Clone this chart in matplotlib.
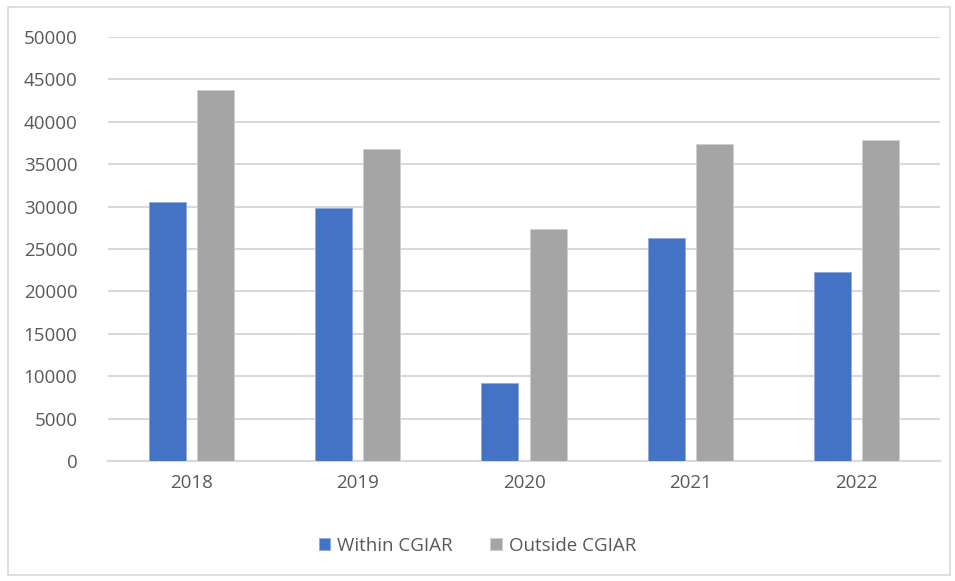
import matplotlib.pyplot as plt
import matplotlib.patches as mpatches
import numpy as np

years = ['2018', '2019', '2020', '2021', '2022']
within_cgiar = [30500, 29800, 9200, 26300, 22300]
outside_cgiar = [43800, 36850, 27300, 37400, 37900]

blue = '#4472C4'
grey = '#A5A5A5'
text_col = '#595959'

plt.rcParams['font.family'] = ['Open Sans', 'DejaVu Sans']

fig = plt.figure(figsize=(9.55, 5.81), dpi=100)
ax = fig.add_axes([108 / 955, 120 / 581, 832 / 955, 424 / 581])

x = np.arange(len(years))
w = 0.222
gap = 0.068
ax.bar(x - (w + gap) / 2, within_cgiar, w, color=blue, edgecolor='#8fa9dc', linewidth=0.6, label='Within CGIAR', zorder=3)
ax.bar(x + (w + gap) / 2, outside_cgiar, w, color=grey, edgecolor='#cfcfcf', linewidth=0.6, label='Outside CGIAR', zorder=3)

ax.set_xlim(-0.5, len(years) - 0.5)
ax.set_ylim(0, 50000)
ax.set_yticks(np.arange(0, 50001, 5000))
ax.set_xticks(x)
ax.set_xticklabels(years)
ax.grid(axis='y', color='#d9d9d9', linewidth=1.5, zorder=0)
for s in ['top', 'right', 'left']:
    ax.spines[s].set_visible(False)
ax.spines['bottom'].set_color('#d9d9d9')
ax.spines['bottom'].set_linewidth(1.5)
ax.tick_params(axis='both', length=0, labelsize=13.5, colors=text_col)
ax.tick_params(axis='y', pad=22)
ax.tick_params(axis='x', pad=9)

leg = fig.legend(loc='center', bbox_to_anchor=(0.5, 1 - 546 / 581), ncol=2, frameon=False,
                 fontsize=13.5, handlelength=0.6, handleheight=0.6, handletextpad=0.4, columnspacing=2.0)
for t in leg.get_texts():
    t.set_color(text_col)

# outer chart border
fig.patches.append(mpatches.Rectangle((8 / 955, 6 / 581), 942 / 955, 568 / 581, transform=fig.transFigure,
                                      fill=False, edgecolor='#d9d9d9', linewidth=1.2))

plt.savefig('out.png', dpi=100)
